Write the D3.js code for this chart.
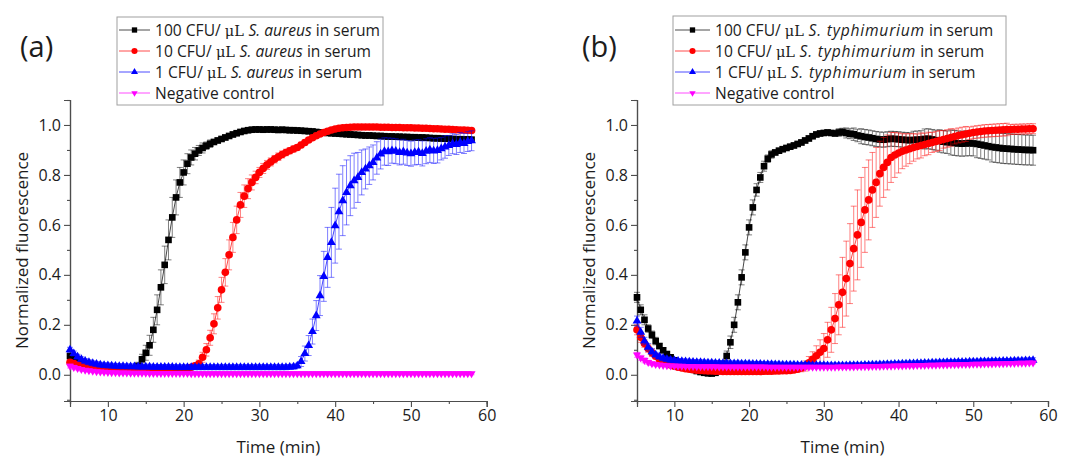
<!DOCTYPE html>
<html><head><meta charset="utf-8">
<script src="https://cdn.jsdelivr.net/npm/d3@7"></script>
<style>
body{margin:0;background:#fff}
svg{display:block}
text{font-family:"Open Sans","Noto Sans",sans-serif;fill:#1c1c1c}
</style>
</head><body>
<svg id="chart" width="1075" height="462"></svg>
<script>
// sampling times (min)
const time = [
 5,5.5,6,6.5,7,7.5,8,8.5,9,9.5,
 10,10.5,11,11.5,12,12.5,13,13.5,14,14.5,
 15,15.5,16,16.5,17,17.5,18,18.5,19,19.5,
 20,20.5,21,21.5,22,22.5,23,23.5,24,24.5,
 25,25.5,26,26.5,27,27.5,28,28.5,29,29.5,
 30,30.5,31,31.5,32,32.5,33,33.5,34,34.5,
 35,35.5,36,36.5,37,37.5,38,38.5,39,39.5,
 40,40.5,41,41.5,42,42.5,43,43.5,44,44.5,
 45,45.5,46,46.5,47,47.5,48,48.5,49,49.5,
 50,50.5,51,51.5,52,52.5,53,53.5,54,54.5,
 55,55.5,56,56.5,57,57.5,58];

const xTicks = [10,20,30,40,50,60];
const xMinor = [5,15,25,35,45,55];
const yTicks = [0,0.2,0.4,0.6,0.8,1.0];
const yMinor = [-0.1,0.1,0.3,0.5,0.7,0.9,1.1];

const doses = ["100","10","1"];
const speciesA = "S. aureus";
const speciesB = "S. typhimurium";
const negLabel = "Negative control";

// ---- (a) S. aureus in serum ----
const aureus100 = [
 0.075,0.065,0.055,0.048,0.042,0.037,0.033,0.030,0.028,0.026,
 0.024,0.022,0.021,0.020,0.020,0.020,0.021,0.025,0.035,0.062,
 0.088,0.118,0.180,0.260,0.350,0.440,0.540,0.630,0.710,0.770,
 0.810,0.845,0.870,0.885,0.898,0.908,0.917,0.925,0.932,0.938,
 0.944,0.950,0.956,0.962,0.967,0.972,0.976,0.979,0.981,0.982,
 0.982,0.981,0.982,0.982,0.981,0.980,0.981,0.980,0.979,0.979,
 0.978,0.977,0.976,0.975,0.974,0.972,0.970,0.969,0.968,0.967,
 0.966,0.965,0.964,0.963,0.962,0.961,0.960,0.959,0.958,0.958,
 0.957,0.956,0.956,0.955,0.954,0.954,0.953,0.953,0.952,0.952,
 0.951,0.951,0.950,0.950,0.949,0.948,0.947,0.947,0.946,0.945,
 0.945,0.944,0.943,0.943,0.942,0.942,0.941];
const aureus100Err = [
 .01,.01,.01,.01,.01,.01,.01,.01,.01,.01,
 .01,.01,.01,.01,.01,.01,.01,.01,.015,.02,
 .03,.04,.05,.06,.07,.075,.08,.08,.07,.06,
 .05,.04,.03,.025,.02,.02,.015,.015,.01,.01,
 .01,.01,.01,.01,.01,.01,.01,.01,.01,.01,
 .01,.01,.01,.01,.01,.01,.01,.01,.01,.01,
 .01,.01,.01,.01,.01,.01,.01,.01,.01,.01,
 .01,.01,.01,.01,.01,.01,.01,.01,.01,.01,
 .01,.01,.01,.01,.01,.01,.01,.01,.01,.01,
 .01,.01,.01,.01,.01,.01,.01,.01,.01,.01,
 .01,.01,.01,.01,.01,.01,.01];
const aureus10 = [
 0.050,0.045,0.040,0.036,0.033,0.030,0.028,0.026,0.024,0.023,
 0.022,0.021,0.020,0.020,0.019,0.019,0.018,0.018,0.018,0.018,
 0.018,0.018,0.018,0.018,0.018,0.019,0.019,0.020,0.020,0.021,
 0.022,0.024,0.030,0.036,0.044,0.070,0.100,0.148,0.204,0.268,
 0.340,0.410,0.480,0.550,0.620,0.680,0.715,0.745,0.770,0.790,
 0.810,0.826,0.840,0.852,0.863,0.873,0.882,0.890,0.897,0.904,
 0.910,0.920,0.930,0.940,0.949,0.957,0.964,0.970,0.975,0.980,
 0.984,0.987,0.989,0.990,0.991,0.992,0.992,0.992,0.992,0.992,
 0.992,0.992,0.991,0.991,0.991,0.990,0.990,0.990,0.989,0.989,
 0.989,0.988,0.988,0.987,0.987,0.986,0.985,0.985,0.984,0.983,
 0.983,0.982,0.981,0.980,0.980,0.979,0.978];
const aureus10Err = [
 .01,.01,.01,.01,.01,.01,.01,.01,.01,.01,
 .01,.01,.01,.01,.01,.01,.01,.01,.01,.01,
 .01,.01,.01,.01,.01,.01,.01,.01,.01,.01,
 .01,.01,.01,.01,.015,.02,.025,.03,.04,.045,
 .05,.055,.06,.06,.055,.05,.045,.04,.03,.025,
 .02,.02,.018,.016,.015,.015,.014,.013,.012,.012,
 .011,.011,.01,.01,.01,.01,.01,.01,.01,.01,
 .008,.008,.008,.008,.008,.008,.008,.008,.008,.008,
 .008,.008,.008,.008,.008,.008,.008,.008,.008,.008,
 .008,.008,.008,.008,.008,.008,.008,.008,.008,.008,
 .008,.008,.008,.008,.008,.008,.008];
const aureus1 = [
 0.100,0.085,0.072,0.062,0.055,0.050,0.046,0.043,0.040,0.038,
 0.037,0.036,0.035,0.034,0.034,0.033,0.033,0.033,0.032,0.032,
 0.032,0.032,0.031,0.031,0.031,0.031,0.031,0.031,0.030,0.030,
 0.030,0.030,0.030,0.030,0.030,0.030,0.030,0.030,0.030,0.030,
 0.030,0.030,0.030,0.030,0.030,0.030,0.030,0.030,0.030,0.030,
 0.030,0.030,0.030,0.030,0.030,0.030,0.030,0.030,0.031,0.032,
 0.036,0.053,0.085,0.117,0.173,0.237,0.317,0.394,0.470,0.530,
 0.597,0.653,0.697,0.730,0.757,0.777,0.790,0.810,0.824,0.837,
 0.850,0.868,0.884,0.894,0.893,0.897,0.895,0.890,0.893,0.888,
 0.885,0.890,0.892,0.886,0.895,0.900,0.896,0.898,0.905,0.912,
 0.918,0.925,0.922,0.930,0.926,0.934,0.937];
const aureus1Err = [
 .01,.01,.01,.01,.01,.01,.01,.01,.01,.01,
 .01,.01,.01,.01,.01,.01,.01,.01,.01,.01,
 .01,.01,.01,.01,.01,.01,.01,.01,.01,.01,
 .01,.01,.01,.01,.01,.01,.01,.01,.01,.01,
 .01,.01,.01,.01,.01,.01,.01,.01,.01,.01,
 .01,.01,.01,.01,.01,.01,.01,.01,.01,.01,
 .01,.02,.03,.04,.05,.06,.08,.10,.12,.14,
 .15,.15,.14,.13,.12,.11,.10,.09,.08,.075,
 .07,.065,.06,.055,.055,.05,.05,.05,.05,.05,
 .05,.05,.05,.05,.05,.05,.05,.05,.045,.045,
 .04,.04,.04,.04,.04,.04,.04];
const aureusNeg = [
 0.035,0.030,0.026,0.022,0.019,0.017,0.015,0.013,0.012,0.011,
 0.010,0.009,0.009,0.008,0.008,0.008,0.007,0.007,0.007,0.007,
 0.007,0.006,0.006,0.006,0.006,0.006,0.006,0.006,0.006,0.006,
 0.006,0.006,0.005,0.005,0.005,0.005,0.005,0.005,0.005,0.005,
 0.005,0.005,0.005,0.005,0.005,0.005,0.005,0.005,0.005,0.005,
 0.005,0.005,0.005,0.005,0.005,0.005,0.005,0.005,0.005,0.005,
 0.005,0.005,0.005,0.005,0.005,0.005,0.005,0.005,0.005,0.005,
 0.005,0.005,0.005,0.005,0.005,0.005,0.005,0.005,0.005,0.005,
 0.005,0.005,0.005,0.005,0.005,0.005,0.005,0.005,0.005,0.005,
 0.005,0.005,0.005,0.005,0.005,0.005,0.005,0.005,0.005,0.005,
 0.005,0.005,0.005,0.005,0.005,0.005,0.005];
const aureusNegErr = [
 .008,.008,.007,.007,.006,.006,.005,.005,.005,.005,
 .005,.005,.005,.005,.005,.005,.005,.005,.005,.005,
 .005,.005,.005,.005,.005,.005,.005,.005,.005,.005,
 .005,.005,.005,.005,.005,.005,.005,.005,.005,.005,
 .005,.005,.005,.005,.005,.005,.005,.005,.005,.005,
 .005,.005,.005,.005,.005,.005,.005,.005,.005,.005,
 .005,.005,.005,.005,.005,.005,.005,.005,.005,.005,
 .005,.005,.005,.005,.005,.005,.005,.005,.005,.005,
 .005,.005,.005,.005,.005,.005,.005,.005,.005,.005,
 .005,.005,.005,.005,.005,.005,.005,.005,.005,.005,
 .005,.005,.005,.005,.005,.005,.005];

// ---- (b) S. typhimurium in serum ----
const typhi100 = [
 0.310,0.260,0.220,0.185,0.160,0.135,0.115,0.098,0.083,0.070,
 0.058,0.048,0.040,0.032,0.026,0.020,0.015,0.011,0.008,0.006,
 0.005,0.008,0.018,0.040,0.075,0.130,0.200,0.290,0.390,0.490,
 0.590,0.670,0.740,0.790,0.835,0.865,0.882,0.890,0.897,0.903,
 0.908,0.913,0.918,0.924,0.930,0.938,0.946,0.955,0.962,0.966,
 0.968,0.970,0.968,0.966,0.970,0.972,0.968,0.965,0.963,0.958,
 0.955,0.952,0.950,0.947,0.944,0.942,0.941,0.943,0.945,0.944,
 0.943,0.941,0.940,0.939,0.940,0.941,0.942,0.944,0.945,0.942,
 0.939,0.936,0.933,0.931,0.930,0.928,0.926,0.925,0.926,0.927,
 0.926,0.924,0.921,0.918,0.915,0.912,0.910,0.908,0.906,0.905,
 0.904,0.903,0.902,0.901,0.900,0.900,0.899];
const typhi100Err = [
 .02,.02,.02,.015,.015,.015,.01,.01,.01,.01,
 .01,.01,.01,.01,.01,.01,.01,.01,.01,.01,
 .01,.01,.01,.015,.02,.025,.03,.03,.03,.03,
 .03,.03,.025,.02,.02,.015,.015,.01,.01,.01,
 .01,.01,.01,.01,.01,.01,.01,.01,.01,.01,
 .01,.01,.01,.01,.015,.015,.02,.02,.025,.025,
 .03,.03,.03,.03,.03,.03,.03,.03,.03,.03,
 .03,.03,.03,.03,.035,.035,.035,.04,.04,.04,
 .04,.045,.045,.045,.05,.05,.05,.05,.05,.05,
 .05,.055,.055,.055,.055,.06,.06,.06,.06,.06,
 .06,.06,.06,.06,.06,.06,.06];
const typhi10 = [
 0.180,0.150,0.125,0.105,0.088,0.074,0.062,0.052,0.045,0.039,
 0.034,0.030,0.027,0.024,0.022,0.020,0.018,0.017,0.016,0.015,
 0.015,0.014,0.014,0.013,0.013,0.013,0.013,0.013,0.013,0.013,
 0.013,0.013,0.013,0.013,0.014,0.014,0.014,0.015,0.015,0.016,
 0.016,0.017,0.019,0.022,0.027,0.035,0.048,0.062,0.076,0.090,
 0.105,0.140,0.180,0.225,0.280,0.330,0.385,0.445,0.505,0.560,
 0.610,0.660,0.700,0.740,0.770,0.805,0.830,0.850,0.870,0.880,
 0.888,0.895,0.900,0.905,0.910,0.914,0.918,0.922,0.926,0.930,
 0.934,0.938,0.942,0.946,0.950,0.954,0.958,0.961,0.964,0.967,
 0.970,0.972,0.974,0.976,0.977,0.978,0.979,0.980,0.981,0.982,
 0.982,0.983,0.983,0.984,0.984,0.985,0.985];
const typhi10Err = [
 .02,.02,.015,.015,.015,.01,.01,.01,.01,.01,
 .01,.01,.01,.01,.01,.01,.01,.01,.01,.01,
 .01,.01,.01,.01,.01,.01,.01,.01,.01,.01,
 .01,.01,.01,.01,.01,.01,.01,.01,.01,.01,
 .01,.01,.01,.01,.015,.02,.025,.03,.04,.05,
 .06,.07,.09,.10,.12,.14,.15,.16,.17,.18,
 .18,.17,.16,.15,.14,.13,.12,.11,.10,.09,
 .08,.07,.065,.06,.055,.05,.05,.045,.045,.04,
 .04,.04,.035,.035,.035,.03,.03,.03,.03,.025,
 .025,.025,.025,.025,.025,.025,.025,.025,.025,.025,
 .02,.02,.02,.02,.02,.02,.02];
const typhi1 = [
 0.215,0.170,0.135,0.110,0.092,0.080,0.072,0.066,0.062,0.059,
 0.057,0.055,0.054,0.053,0.052,0.051,0.050,0.050,0.049,0.048,
 0.048,0.047,0.047,0.046,0.046,0.045,0.045,0.045,0.044,0.044,
 0.044,0.043,0.043,0.043,0.042,0.042,0.042,0.041,0.041,0.040,
 0.040,0.040,0.040,0.039,0.039,0.039,0.039,0.038,0.038,0.038,
 0.038,0.037,0.037,0.037,0.037,0.037,0.037,0.038,0.038,0.038,
 0.038,0.039,0.039,0.040,0.040,0.041,0.041,0.042,0.042,0.043,
 0.043,0.044,0.044,0.045,0.045,0.046,0.046,0.047,0.047,0.048,
 0.048,0.049,0.049,0.050,0.050,0.050,0.051,0.051,0.051,0.052,
 0.052,0.052,0.053,0.053,0.053,0.054,0.054,0.054,0.055,0.055,
 0.055,0.056,0.056,0.056,0.057,0.057,0.058];
const typhi1Err = [
 .02,.02,.015,.015,.012,.01,.01,.01,.01,.01,
 .01,.01,.01,.01,.01,.01,.01,.01,.01,.01,
 .01,.01,.01,.01,.01,.01,.01,.01,.01,.01,
 .01,.01,.01,.01,.01,.01,.01,.01,.01,.01,
 .01,.01,.01,.01,.01,.01,.01,.01,.01,.01,
 .01,.01,.01,.01,.01,.01,.01,.01,.01,.01,
 .01,.01,.01,.01,.01,.01,.01,.01,.01,.01,
 .01,.01,.01,.01,.01,.01,.01,.01,.01,.01,
 .01,.01,.01,.01,.01,.01,.01,.01,.01,.01,
 .01,.01,.01,.01,.01,.01,.01,.01,.01,.01,
 .01,.01,.01,.01,.01,.01,.01];
const typhiNeg = [
 0.080,0.068,0.058,0.050,0.045,0.042,0.040,0.038,0.037,0.036,
 0.036,0.035,0.035,0.034,0.034,0.034,0.033,0.033,0.033,0.033,
 0.033,0.033,0.032,0.032,0.032,0.032,0.032,0.032,0.032,0.032,
 0.032,0.032,0.032,0.032,0.032,0.031,0.031,0.031,0.031,0.031,
 0.031,0.031,0.031,0.031,0.031,0.031,0.031,0.031,0.031,0.031,
 0.031,0.031,0.031,0.031,0.032,0.032,0.032,0.032,0.032,0.033,
 0.033,0.033,0.033,0.034,0.034,0.034,0.035,0.035,0.035,0.036,
 0.036,0.036,0.037,0.037,0.037,0.038,0.038,0.038,0.039,0.039,
 0.039,0.040,0.040,0.040,0.041,0.041,0.041,0.042,0.042,0.042,
 0.043,0.043,0.043,0.044,0.044,0.044,0.045,0.045,0.045,0.046,
 0.046,0.046,0.047,0.047,0.047,0.048,0.048];
const typhiNegErr = [
 .01,.01,.01,.008,.008,.007,.006,.005,.005,.005,
 .005,.005,.005,.005,.005,.005,.005,.005,.005,.005,
 .005,.005,.005,.005,.005,.005,.005,.005,.005,.005,
 .005,.005,.005,.005,.005,.005,.005,.005,.005,.005,
 .005,.005,.005,.005,.005,.005,.005,.005,.005,.005,
 .005,.005,.005,.005,.005,.005,.005,.005,.005,.005,
 .005,.005,.005,.005,.005,.005,.005,.005,.005,.005,
 .005,.005,.005,.005,.005,.005,.005,.005,.005,.005,
 .005,.005,.005,.005,.005,.005,.005,.005,.005,.005,
 .005,.005,.005,.005,.005,.005,.005,.005,.005,.005,
 .005,.005,.005,.005,.005,.005,.005];

const colors = ["#000000","#ff0000","#0000ff","#ff00ff"];
const shapes = ["square","circle","triangle","down"];

const svg = d3.select("#chart");

function symbolPath(shape){
  if(shape==="square") return d3.symbol(d3.symbolSquare, 44)();
  if(shape==="circle") return d3.symbol(d3.symbolCircle, 46)();
  return d3.symbol(d3.symbolTriangle, shape==="triangle" ? 34 : 28)();
}

function drawPanel(cfg){
  const g = svg.append("g");
  const x = d3.scaleLinear().domain([5,60]).range([cfg.left, cfg.right]);
  const y = d3.scaleLinear().domain([-0.105,1.1]).range([cfg.bottom, cfg.top]);

  // axes
  const axisColor = "#4d4d4d";
  g.append("g").attr("transform",`translate(0,${cfg.bottom})`)
    .call(d3.axisBottom(x).tickValues(xTicks).tickSize(6).tickPadding(3).tickFormat(d3.format("d")));
  g.append("g").attr("transform",`translate(0,${cfg.bottom})`)
    .call(d3.axisBottom(x).tickValues(xMinor).tickSize(3).tickFormat(""));
  g.append("g").attr("transform",`translate(${cfg.left},0)`)
    .call(d3.axisLeft(y).tickValues(yTicks).tickSize(6).tickPadding(3).tickFormat(d3.format(".1f")));
  g.append("g").attr("transform",`translate(${cfg.left},0)`)
    .call(d3.axisLeft(y).tickValues(yMinor).tickSize(3).tickFormat(""));
  g.selectAll(".domain").attr("stroke",axisColor).attr("stroke-width",1.2);
  g.selectAll(".tick line").attr("stroke",axisColor).attr("stroke-width",1.1);
  g.selectAll(".tick text").attr("font-size",16).attr("fill","#1c1c1c")
    .attr("font-family",'"Open Sans","Noto Sans",sans-serif');

  // axis titles
  g.append("text").attr("x",(cfg.left+cfg.right)/2).attr("y",cfg.bottom+52)
    .attr("text-anchor","middle").attr("font-size",17).text("Time (min)");
  g.append("text").attr("transform",`translate(${cfg.left-42},${(cfg.top+cfg.bottom)/2}) rotate(-90)`)
    .attr("text-anchor","middle").attr("font-size",17).text("Normalized fluorescence");
  g.append("text").attr("x",cfg.tagX).attr("y",57).attr("font-size",29).text(cfg.tag);

  // series
  const line = d3.line().x((d,i)=>x(time[i])).y(d=>y(d));
  cfg.series.forEach((s,k)=>{
    const col = colors[k];
    const sg = g.append("g");
    // error bars
    const eb = sg.append("g").attr("stroke",col).attr("stroke-opacity",0.5).attr("stroke-width",1);
    s.vals.forEach((v,i)=>{
      const e = s.errs[i];
      const cx = x(time[i]);
      const yt = y(v+e), yb = y(v-e);
      eb.append("line").attr("x1",cx).attr("x2",cx).attr("y1",yt).attr("y2",yb);
      eb.append("line").attr("x1",cx-3).attr("x2",cx+3).attr("y1",yt).attr("y2",yt);
      eb.append("line").attr("x1",cx-3).attr("x2",cx+3).attr("y1",yb).attr("y2",yb);
    });
    sg.append("path").datum(s.vals).attr("d",line).attr("fill","none")
      .attr("stroke",col).attr("stroke-width",0.9).attr("stroke-opacity",0.8);
    const p = symbolPath(shapes[k]);
    sg.selectAll("path.mk").data(s.vals).join("path").attr("class","mk")
      .attr("d",p).attr("fill",col)
      .attr("transform",(d,i)=>`translate(${x(time[i])},${y(d)})${shapes[k]==="down"?" rotate(180)":""}`);
  });

  // legend
  const L = cfg.legend;
  const lg = g.append("g");
  lg.append("rect").attr("x",L.x).attr("y",L.y).attr("width",L.w).attr("height",L.h)
    .attr("fill","#fff").attr("stroke","#a0a0a0").attr("stroke-width",1);
  const rowY = [30,51,72,93];
  cfg.series.forEach((s,k)=>{
    const col = colors[k];
    const yy = rowY[k];
    lg.append("line").attr("x1",L.x+2).attr("x2",L.x+L.sample).attr("y1",yy).attr("y2",yy)
      .attr("stroke",col).attr("stroke-width",1).attr("stroke-opacity",0.7);
    const mx = L.x + (L.sample+2)/2;
    lg.append("path").attr("d",symbolPath(shapes[k])).attr("fill",col)
      .attr("transform",`translate(${mx},${yy})${shapes[k]==="down"?" rotate(180)":""} scale(0.8)`);
    const t = lg.append("text").attr("x",L.x+L.sample+5).attr("y",yy+5.5).attr("font-size",15.6);
    if(k<3){
      t.append("tspan").text(doses[k]+" CFU/ ");
      t.append("tspan").attr("font-family",'"DejaVu Serif","Liberation Serif",serif').attr("font-size",14.5).text("\u03bcL ");
      t.append("tspan").attr("font-style","italic").attr("letter-spacing",L.italicSpacing).text(cfg.species);
      t.append("tspan").text(" in serum");
    } else {
      t.text(negLabel);
    }
  });
}

drawPanel({
  left:70, right:486.7, top:100, bottom:401, tag:"(a)", tagX:20, species:speciesA,
  series:[{vals:aureus100,errs:aureus100Err},{vals:aureus10,errs:aureus10Err},
          {vals:aureus1,errs:aureus1Err},{vals:aureusNeg,errs:aureusNegErr}],
  legend:{x:117,y:17,w:266,h:88,sample:33,italicSpacing:0}
});
drawPanel({
  left:637, right:1048, top:100, bottom:401, tag:"(b)", tagX:582, species:speciesB,
  series:[{vals:typhi100,errs:typhi100Err},{vals:typhi10,errs:typhi10Err},
          {vals:typhi1,errs:typhi1Err},{vals:typhiNeg,errs:typhiNegErr}],
  legend:{x:673,y:16,w:333,h:89,sample:37,italicSpacing:0.8}
});
</script>
</body></html>
